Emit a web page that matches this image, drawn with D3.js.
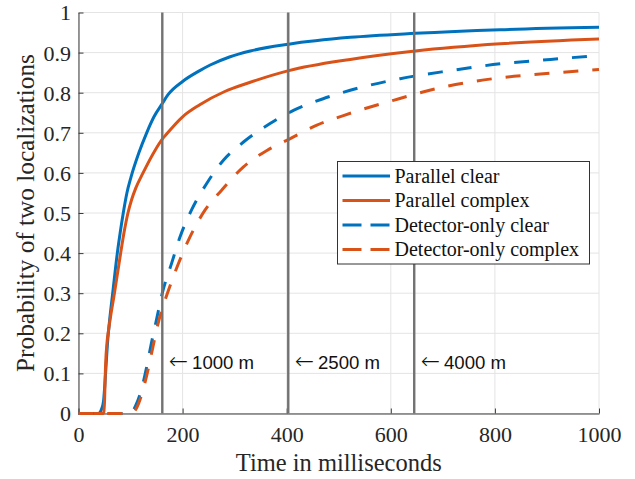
<!DOCTYPE html>
<html>
<head>
<meta charset="utf-8">
<script src="https://cdn.jsdelivr.net/npm/d3@7"></script>
<style>
  html, body { margin: 0; padding: 0; background: #fff; }
  svg { display: block; }
</style>
</head>
<body>
<div id="chart"></div>
<script>
// ---- data ----
const xTicks = [0, 200, 400, 600, 800, 1000];
const yTicks = [0, 0.1, 0.2, 0.3, 0.4, 0.5, 0.6, 0.7, 0.8, 0.9, 1];
const yTickLabels = ["0", "0.1", "0.2", "0.3", "0.4", "0.5", "0.6", "0.7", "0.8", "0.9", "1"];

const parClearT = [0, 38, 44, 48, 52, 56, 60, 65.7, 74.6, 80, 86, 93, 101, 116, 131, 145, 161, 172, 200, 233, 253, 290, 330, 404, 522, 647, 810, 1000];
const parClearV = [0, 0, 0.01, 0.03, 0.1, 0.18, 0.235, 0.3, 0.4, 0.45, 0.5, 0.55, 0.59, 0.65, 0.7, 0.74, 0.773, 0.795, 0.828, 0.855, 0.869, 0.889, 0.904, 0.921, 0.938, 0.948, 0.957, 0.963];

const parComplexT = [0, 48, 50, 52, 55, 58, 69, 81, 88, 95, 102, 110, 124, 147, 161, 168, 200, 233, 281, 330, 404, 522, 647, 810, 1000];
const parComplexV = [0, 0, 0.03, 0.12, 0.18, 0.21, 0.3, 0.4, 0.455, 0.5, 0.533, 0.562, 0.6, 0.656, 0.684, 0.695, 0.74, 0.77, 0.803, 0.826, 0.855, 0.883, 0.904, 0.922, 0.934];

const detClearT = [0, 100, 110, 120, 130, 140, 150, 161, 179, 195, 217, 246, 278, 317, 368, 413, 470, 522, 618, 714, 810, 907, 1000];
const detClearV = [0, 0, 0.02, 0.055, 0.11, 0.175, 0.235, 0.3, 0.375, 0.44, 0.507, 0.573, 0.631, 0.677, 0.723, 0.756, 0.785, 0.806, 0.835, 0.855, 0.872, 0.883, 0.893];

const detComplexT = [0, 102, 112, 122, 132, 142, 153, 161, 173, 192, 214, 243, 275, 317, 362, 406, 458, 509, 605, 701, 797, 893, 1000];
const detComplexV = [0, 0, 0.015, 0.05, 0.1, 0.16, 0.225, 0.262, 0.308, 0.374, 0.44, 0.507, 0.557, 0.615, 0.656, 0.685, 0.719, 0.743, 0.781, 0.814, 0.835, 0.847, 0.858];

const seriesNames = ["Parallel clear", "Parallel complex", "Detector-only clear", "Detector-only complex"];
const markerDistances = ["1000 m", "2500 m", "4000 m"];
const markerTimes = [161, 403, 645];
const markerLabelY = 0.11;

// ---- layout ----
const W = 635, H = 479;
const margin = { left: 78.5, right: 36, top: 12.5, bottom: 65.5 };
const blue = "#0072BD", orange = "#D95319";

const svg = d3.select("#chart").append("svg").attr("width", W).attr("height", H);

const x = d3.scaleLinear().domain([0, 1000]).range([margin.left, W - margin.right]);
const y = d3.scaleLinear().domain([0, 1]).range([H - margin.bottom, margin.top]);

const serif = "'Liberation Serif', 'Times New Roman', serif";
const sans = "'Liberation Sans', Arial, Helvetica, sans-serif";

// grid
svg.append("g").selectAll("line").data(xTicks).join("line")
  .attr("x1", d => x(d)).attr("x2", d => x(d))
  .attr("y1", y(0)).attr("y2", y(1))
  .attr("stroke", "#e4e4e4").attr("stroke-width", 1);
svg.append("g").selectAll("line").data(yTicks).join("line")
  .attr("x1", x(0)).attr("x2", x(1000))
  .attr("y1", d => y(d)).attr("y2", d => y(d))
  .attr("stroke", "#e4e4e4").attr("stroke-width", 1);

// axes
const xAxis = d3.axisBottom(x).tickValues(xTicks).tickSizeInner(-5).tickSizeOuter(0).tickPadding(13.3).tickFormat(d3.format("d"));
const gx = svg.append("g").attr("transform", `translate(0,${y(0)})`).call(xAxis);
const yAxis = d3.axisLeft(y).tickValues(yTicks).tickSizeInner(-5).tickSizeOuter(0).tickPadding(7.5)
  .tickFormat((d, i) => yTickLabels[i]);
const gy = svg.append("g").attr("transform", `translate(${x(0)},0)`).call(yAxis);

[gx, gy].forEach(g => {
  g.attr("font-family", null).attr("font-size", null);
  g.select(".domain").attr("stroke", "#3a3a3a").attr("stroke-width", 1);
  g.selectAll(".tick line").attr("stroke", "#3a3a3a").attr("stroke-width", 1);
  g.selectAll(".tick text").attr("fill", "#262626")
    .style("font-family", serif).style("font-size", "22px");
});
gy.selectAll(".tick text").attr("dy", "0.34em");

// curves
const line = d3.line().x(d => x(d[0])).y(d => y(d[1])).curve(d3.curveMonotoneX);
const series = [
  { t: parClearT, v: parClearV, color: blue, dash: null },
  { t: parComplexT, v: parComplexV, color: orange, dash: null },
  { t: detClearT, v: detClearV, color: blue, dash: "15,14" },
  { t: detComplexT, v: detComplexV, color: orange, dash: "15,14" }
];
series.forEach(s => {
  const pts = s.t.map((t, i) => [t, s.v[i]]);
  svg.append("path").datum(pts)
    .attr("d", line)
    .attr("fill", "none")
    .attr("stroke", s.color)
    .attr("stroke-width", 3)
    .attr("stroke-dasharray", s.dash)
    .attr("stroke-linejoin", "round");
});

// vertical distance markers
svg.append("g").selectAll("line").data(markerTimes).join("line")
  .attr("x1", d => x(d)).attr("x2", d => x(d))
  .attr("y1", y(0)).attr("y2", y(1))
  .attr("stroke", "#727272").attr("stroke-width", 2.4);

const labels = svg.append("g").selectAll("text").data(markerTimes).join("text")
  .attr("x", d => x(d) + 6.5)
  .attr("y", y(markerLabelY))
  .attr("fill", "#111");
labels.append("tspan")
  .style("font-family", "'DejaVu Sans', sans-serif").style("font-size", "23px").style("font-weight", "200")
  .text("\u2190");
labels.append("tspan")
  .attr("dx", 4)
  .style("font-family", sans).style("font-size", "18.6px")
  .text((d, i) => markerDistances[i]);

// axis titles
function fitText(sel, base, target) {
  const len = sel.node().getComputedTextLength();
  if (len > 0) sel.style("font-size", (base * target / len) + "px");
}
const xt = svg.append("text")
  .attr("x", (x(0) + x(1000)) / 2).attr("y", 471)
  .attr("text-anchor", "middle").attr("fill", "#262626")
  .style("font-family", serif).style("font-size", "22px")
  .text("Time in milliseconds");
fitText(xt, 22, 206);
const yt = svg.append("text")
  .attr("transform", `translate(34,${(y(0) + y(1)) / 2}) rotate(-90)`)
  .attr("text-anchor", "middle").attr("fill", "#262626")
  .style("font-family", serif).style("font-size", "22px")
  .text("Probability of two localizations");
fitText(yt, 22, 318);

// legend
const lg = svg.append("g").attr("transform", "translate(337.5,161.5)");
lg.append("rect").attr("width", 252).attr("height", 102.5)
  .attr("fill", "#fff").attr("stroke", "#333").attr("stroke-width", 1);
seriesNames.forEach((name, i) => {
  const yy = 14.5 + i * 24.5;
  lg.append("line").attr("x1", 5).attr("x2", 52.5).attr("y1", yy).attr("y2", yy)
    .attr("stroke", series[i].color).attr("stroke-width", 3)
    .attr("stroke-dasharray", series[i].dash ? "19,9" : null);
  lg.append("text").attr("x", 57).attr("y", yy).attr("dy", "0.33em")
    .attr("fill", "#111")
    .style("font-family", serif).style("font-size", "20px")
    .text(name);
});
</script>
</body>
</html>
